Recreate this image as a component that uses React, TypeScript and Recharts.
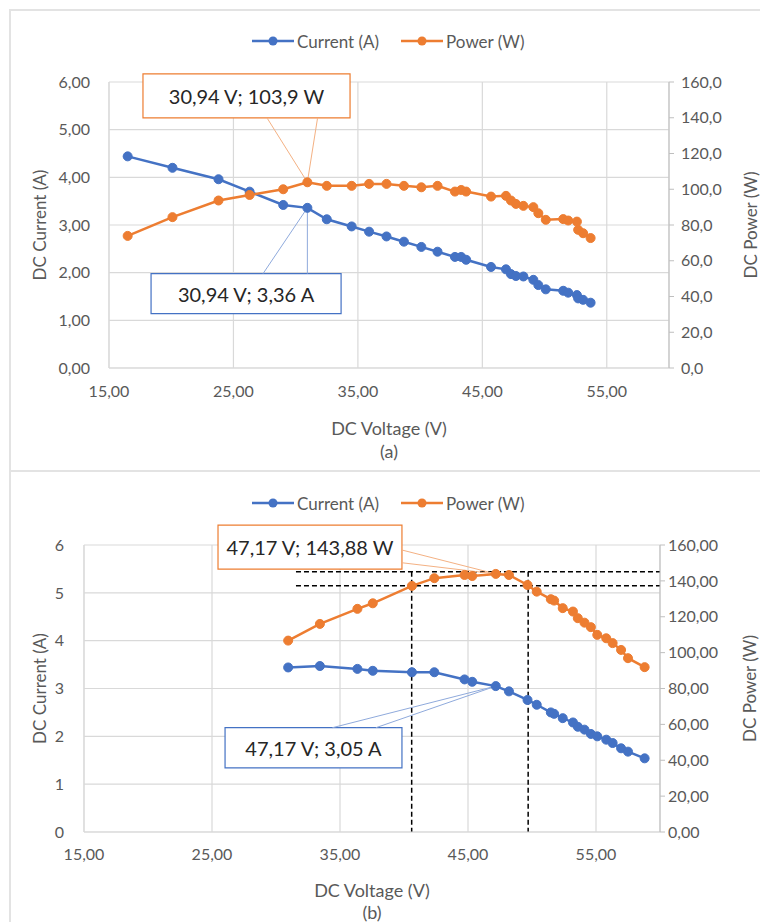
import React from 'react'
import {
  LineChart,
  Line,
  XAxis,
  YAxis,
  CartesianGrid,
  ReferenceLine,
  ReferenceArea,
  Label,
} from 'recharts'

const BLUE = '#4472C4'
const ORANGE = '#ED7D31'
const BLUE_LEADER = '#8FAADC'
const ORANGE_LEADER = '#F4B183'
const GRID = '#d9d9d9'
const TEXT = '#595959'
const DARK = '#262626'

// (a) measured points
const voltageA = [
  16.5, 20.1, 23.8, 26.3, 29.0, 30.94, 32.5, 34.5, 35.9, 37.3, 38.7, 40.1, 41.4,
  42.8, 43.3, 43.7, 45.7, 46.9, 47.3, 47.7, 48.3, 49.1, 49.5, 50.1, 51.5, 51.9,
  52.6, 52.7, 53.1, 53.7,
]
const currentA = [
  4.44, 4.2, 3.96, 3.7, 3.42, 3.36, 3.12, 2.97, 2.86, 2.76, 2.65, 2.54, 2.44,
  2.33, 2.33, 2.27, 2.12, 2.07, 1.97, 1.93, 1.92, 1.85, 1.74, 1.65, 1.62, 1.58,
  1.53, 1.46, 1.43, 1.37,
]
const powerA = [
  73.9, 84.4, 93.7, 96.8, 100.0, 103.9, 101.9, 101.9, 103.0, 103.0, 101.9,
  101.1, 101.9, 98.7, 99.6, 98.7, 95.9, 96.3, 93.7, 91.8, 90.7, 90.0, 86.6,
  82.9, 83.3, 82.5, 81.9, 77.3, 75.4, 72.7,
]

// (b) measured points
const voltageB = [
  30.95, 33.43, 36.36, 37.56, 40.62, 42.37, 44.73, 45.33, 47.17, 48.2, 49.65,
  50.37, 51.47, 51.73, 52.4, 53.2, 53.58, 54.1, 54.6, 55.1, 55.8, 56.3, 56.96,
  57.5, 58.8,
]
const currentB = [
  3.44, 3.47, 3.41, 3.37, 3.34, 3.34, 3.19, 3.14, 3.05, 2.94, 2.76, 2.66, 2.5,
  2.47, 2.38, 2.29, 2.2, 2.14, 2.05, 2.0, 1.93, 1.86, 1.75, 1.68, 1.54,
]
const powerB = [
  106.7, 116.0, 124.4, 127.5, 137.2, 141.5, 143.3, 142.7, 143.88, 143.3, 137.7,
  134.0, 129.8, 129.0, 124.8, 122.9, 119.2, 116.7, 114.2, 109.9, 108.0, 105.3,
  101.5, 96.9, 91.9,
]

const voltageTicks = [15, 25, 35, 45, 55]
const currentTicks = [0, 1, 2, 3, 4, 5, 6]
const powerTicks = [0, 20, 40, 60, 80, 100, 120, 140, 160]

// MPP callouts and the dashed band in (b)
const mppA = { v: 30.94, i: 3.36, p: 103.9 }
const mppB = { v: 47.17, i: 3.05, p: 143.88 }
const bandPower = [145.1, 137.3]
const bandVoltage = [40.6, 49.7]

const dataA = voltageA.map((v, k) => ({
  v,
  current: currentA[k],
  power: powerA[k],
}))
const dataB = voltageB.map((v, k) => ({
  v,
  current: currentB[k],
  power: powerB[k],
}))

const comma = (d: number) => (v: number) => v.toFixed(d).replace('.', ',')

const tickStyle = { fill: TEXT, fontSize: 16 }

function boxLabel(text: string) {
  return (props: any) => {
    const { x, y, width, height } = props.viewBox
    return (
      <text
        x={x + width / 2}
        y={y + height / 2}
        textAnchor='middle'
        dominantBaseline='central'
        fill={DARK}
        fontSize={20}
      >
        {text}
      </text>
    )
  }
}

function xTitle(caption: string, dy1: number, dy2: number) {
  return (props: any) => {
    const { x, y, width } = props.viewBox
    const cx = x + width / 2
    return (
      <g>
        <text x={cx} y={y + dy1} textAnchor='middle' dominantBaseline='central' fill={TEXT} fontSize={18}>
          DC Voltage (V)
        </text>
        <text x={cx} y={y + dy2} textAnchor='middle' dominantBaseline='central' fill={TEXT} fontSize={18}>
          {caption}
        </text>
      </g>
    )
  }
}

function yTitle(text: string, dx: number) {
  return (props: any) => {
    const { x, y, height } = props.viewBox
    const cx = x + dx
    const cy = y + height / 2
    return (
      <text
        x={cx}
        y={cy}
        transform={`rotate(-90, ${cx}, ${cy})`}
        textAnchor='middle'
        dominantBaseline='central'
        fill={TEXT}
        fontSize={17}
      >
        {text}
      </text>
    )
  }
}

function LegendItem({ color, text }: { color: string; text: string }) {
  return (
    <div style={{ display: 'flex', alignItems: 'center', marginRight: 22 }}>
      <svg width={42} height={12}>
        <line x1={0} y1={6} x2={42} y2={6} stroke={color} strokeWidth={2.5} />
        <circle cx={21} cy={6} r={4.5} fill={color} />
      </svg>
      <span style={{ marginLeft: 3, fontSize: 17, color: TEXT }}>{text}</span>
    </div>
  )
}

function LegendRow({ top }: { top: number }) {
  return (
    <div
      style={{
        position: 'absolute',
        top,
        left: 252,
        height: 22,
        display: 'flex',
        alignItems: 'center',
        whiteSpace: 'nowrap',
      }}
    >
      <LegendItem color={BLUE} text='Current (A)' />
      <LegendItem color={ORANGE} text='Power (W)' />
    </div>
  )
}

const dotOf = (c: string) => ({ r: 4.5, fill: c, stroke: c, strokeWidth: 1 })

export default function App() {
  return (
    <div
      style={{
        position: 'absolute',
        left: 0,
        top: 0,
        width: 760,
        height: 922,
        overflow: 'hidden',
        background: '#fff',
        fontFamily: 'Lato, sans-serif',
      }}
    >
      <div
        style={{
          position: 'absolute',
          left: 9,
          top: 9,
          width: 800,
          height: 1000,
          border: '2px solid #e3e3e3',
        }}
      />
      <div
        style={{
          position: 'absolute',
          left: 9,
          top: 470,
          width: 800,
          height: 2,
          background: '#e3e3e3',
        }}
      />

      <LegendRow top={30} />
      <div style={{ position: 'absolute', left: 0, top: 0 }}>
        <LineChart
          width={760}
          height={470}
          data={dataA}
          margin={{ top: 82, right: 0, bottom: 0, left: 0 }}
        >
          <CartesianGrid yAxisId='left' stroke={GRID} strokeWidth={1.2} />
          <XAxis
            type='number'
            dataKey='v'
            domain={[15, 60]}
            ticks={voltageTicks}
            interval={0}
            tickFormatter={comma(2)}
            height={102}
            tickLine={false}
            tickSize={0}
            tickMargin={18}
            axisLine={{ stroke: GRID }}
            tick={tickStyle}
          >
            <Label content={xTitle('(a)', 60, 83)} />
          </XAxis>
          <YAxis
            yAxisId='left'
            domain={[0, 6]}
            ticks={currentTicks}
            interval={0}
            tickFormatter={comma(2)}
            width={109}
            tickLine={false}
            tickSize={0}
            tickMargin={19}
            axisLine={{ stroke: GRID }}
            tick={tickStyle}
          >
            <Label content={yTitle('DC Current (A)', 39)} />
          </YAxis>
          <YAxis
            yAxisId='right'
            orientation='right'
            domain={[0, 160]}
            ticks={powerTicks}
            interval={0}
            tickFormatter={comma(1)}
            width={91}
            tickSize={5}
            tickMargin={7}
            tickLine={{ stroke: '#bfbfbf' }}
            axisLine={{ stroke: '#bfbfbf' }}
            tick={tickStyle}
          >
            <Label content={yTitle('DC Power (W)', 81)} />
          </YAxis>

          <ReferenceLine
            yAxisId='right'
            segment={[{ x: 27.7, y: 139.9 }, { x: mppA.v, y: mppA.p }]}
            stroke={ORANGE_LEADER}
            ifOverflow='visible'
          />
          <ReferenceLine
            yAxisId='right'
            segment={[{ x: 31.76, y: 139.9 }, { x: mppA.v, y: mppA.p }]}
            stroke={ORANGE_LEADER}
            ifOverflow='visible'
          />
          <ReferenceLine
            yAxisId='left'
            segment={[{ x: 27.38, y: 1.98 }, { x: mppA.v, y: mppA.i }]}
            stroke={BLUE_LEADER}
            ifOverflow='visible'
          />
          <ReferenceLine
            yAxisId='left'
            segment={[{ x: mppA.v, y: 1.98 }, { x: mppA.v, y: mppA.i }]}
            stroke={BLUE_LEADER}
            ifOverflow='visible'
          />

          <Line
            yAxisId='left'
            dataKey='current'
            stroke={BLUE}
            strokeWidth={2.5}
            dot={dotOf(BLUE)}
            isAnimationActive={false}
          />
          <Line
            yAxisId='right'
            dataKey='power'
            stroke={ORANGE}
            strokeWidth={2.5}
            dot={dotOf(ORANGE)}
            isAnimationActive={false}
          />

          <ReferenceArea
            yAxisId='right'
            x1={17.73}
            x2={34.37}
            y1={139.9}
            y2={164.5}
            fill='#fff'
            fillOpacity={1}
            stroke={ORANGE}
            strokeWidth={1.2}
            ifOverflow='visible'
            label={boxLabel('30,94 V; 103,9 W')}
          />
          <ReferenceArea
            yAxisId='left'
            x1={18.38}
            x2={33.65}
            y1={1.14}
            y2={1.98}
            fill='#fff'
            fillOpacity={1}
            stroke={BLUE}
            strokeWidth={1.2}
            ifOverflow='visible'
            label={boxLabel('30,94 V; 3,36 A')}
          />
        </LineChart>
      </div>

      <LegendRow top={492} />
      <div style={{ position: 'absolute', left: 0, top: 470 }}>
        <LineChart
          width={760}
          height={452}
          data={dataB}
          margin={{ top: 75, right: 0, bottom: 0, left: 0 }}
        >
          <CartesianGrid yAxisId='left' stroke={GRID} strokeWidth={1.2} />
          <XAxis
            type='number'
            dataKey='v'
            domain={[15, 60]}
            ticks={voltageTicks}
            interval={0}
            tickFormatter={comma(2)}
            height={90}
            tickLine={false}
            tickSize={0}
            tickMargin={17}
            axisLine={{ stroke: GRID }}
            tick={tickStyle}
          >
            <Label content={xTitle('(b)', 58, 80)} />
          </XAxis>
          <YAxis
            yAxisId='left'
            domain={[0, 6]}
            ticks={currentTicks}
            interval={0}
            width={84}
            tickLine={false}
            tickSize={0}
            tickMargin={20}
            axisLine={{ stroke: GRID }}
            tick={tickStyle}
          >
            <Label content={yTitle('DC Current (A)', 39)} />
          </YAxis>
          <YAxis
            yAxisId='right'
            orientation='right'
            domain={[0, 160]}
            ticks={powerTicks}
            interval={0}
            tickFormatter={comma(2)}
            width={100}
            tickSize={5}
            tickMargin={3}
            tickLine={{ stroke: '#bfbfbf' }}
            axisLine={{ stroke: '#bfbfbf' }}
            tick={tickStyle}
          >
            <Label content={yTitle('DC Power (W)', 89)} />
          </YAxis>

          {bandPower.map((p) => (
            <ReferenceLine
              key={'h' + p}
              yAxisId='right'
              segment={[{ x: 31.56, y: p }, { x: 60, y: p }]}
              stroke='#000'
              strokeWidth={1.5}
              strokeDasharray='5 3'
              ifOverflow='visible'
            />
          ))}
          {bandVoltage.map((v) => (
            <ReferenceLine
              key={'v' + v}
              yAxisId='right'
              segment={[{ x: v, y: bandPower[0] }, { x: v, y: 0 }]}
              stroke='#000'
              strokeWidth={1.5}
              strokeDasharray='5 3'
              ifOverflow='visible'
            />
          ))}

          <ReferenceLine
            yAxisId='right'
            segment={[{ x: 39.84, y: 157.2 }, { x: mppB.v, y: mppB.p }]}
            stroke={ORANGE_LEADER}
            ifOverflow='visible'
          />
          <ReferenceLine
            yAxisId='right'
            segment={[{ x: 39.84, y: 150.1 }, { x: mppB.v, y: mppB.p }]}
            stroke={ORANGE_LEADER}
            ifOverflow='visible'
          />
          <ReferenceLine
            yAxisId='left'
            segment={[{ x: 34.4, y: 2.18 }, { x: mppB.v, y: mppB.i }]}
            stroke={BLUE_LEADER}
            ifOverflow='visible'
          />
          <ReferenceLine
            yAxisId='left'
            segment={[{ x: 37.8, y: 2.18 }, { x: mppB.v, y: mppB.i }]}
            stroke={BLUE_LEADER}
            ifOverflow='visible'
          />

          <Line
            yAxisId='left'
            dataKey='current'
            stroke={BLUE}
            strokeWidth={2.5}
            dot={dotOf(BLUE)}
            isAnimationActive={false}
          />
          <Line
            yAxisId='right'
            dataKey='power'
            stroke={ORANGE}
            strokeWidth={2.5}
            dot={dotOf(ORANGE)}
            isAnimationActive={false}
          />

          <ReferenceArea
            yAxisId='right'
            x1={25.47}
            x2={39.84}
            y1={146.6}
            y2={171.1}
            fill='#fff'
            fillOpacity={1}
            stroke={ORANGE}
            strokeWidth={1.2}
            ifOverflow='visible'
            label={boxLabel('47,17 V; 143,88 W')}
          />
          <ReferenceArea
            yAxisId='left'
            x1={26.02}
            x2={39.84}
            y1={1.34}
            y2={2.18}
            fill='#fff'
            fillOpacity={1}
            stroke={BLUE}
            strokeWidth={1.2}
            ifOverflow='visible'
            label={boxLabel('47,17 V; 3,05 A')}
          />
        </LineChart>
      </div>
    </div>
  )
}
